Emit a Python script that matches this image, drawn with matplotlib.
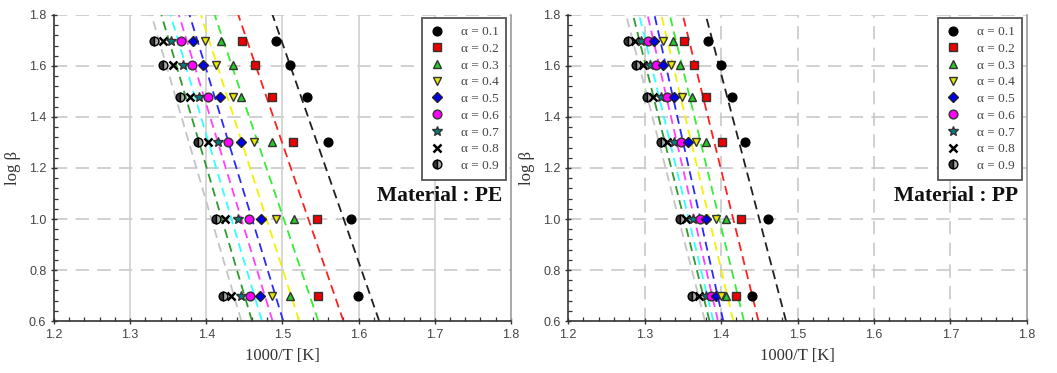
import matplotlib
matplotlib.use("Agg")
import matplotlib.pyplot as plt
from matplotlib.ticker import MultipleLocator

# ---------------- data ----------------
alphas = ["0.1", "0.2", "0.3", "0.4", "0.5", "0.6", "0.7", "0.8", "0.9"]
log_beta = [1.699, 1.602, 1.477, 1.301, 1.0, 0.699]

# PE: x (1000/T) for each alpha, per log_beta row (rows ordered as log_beta)
pe_x = {
    "0.1": [1.491, 1.510, 1.532, 1.560, 1.590, 1.599],
    "0.2": [1.447, 1.464, 1.486, 1.514, 1.545, 1.546],
    "0.3": [1.419, 1.435, 1.445, 1.486, 1.515, 1.510],
    "0.4": [1.398, 1.413, 1.435, 1.462, 1.491, 1.486],
    "0.5": [1.382, 1.396, 1.418, 1.445, 1.472, 1.471],
    "0.6": [1.367, 1.381, 1.402, 1.429, 1.456, 1.457],
    "0.7": [1.353, 1.369, 1.390, 1.415, 1.441, 1.446],
    "0.8": [1.343, 1.356, 1.378, 1.402, 1.425, 1.433],
    "0.9": [1.331, 1.343, 1.365, 1.389, 1.413, 1.422],
}
# PE fit lines: x at log_beta = 0.6 and at 1.8
pe_fit_bottom = [1.627, 1.580, 1.547, 1.522, 1.501, 1.487, 1.473, 1.460, 1.446]
pe_fit_top = [1.487, 1.442, 1.411, 1.393, 1.378, 1.364, 1.353, 1.341, 1.328]

# PP
pp_x = {
    "0.1": [1.383, 1.400, 1.414, 1.432, 1.461, 1.441],
    "0.2": [1.352, 1.365, 1.381, 1.401, 1.426, 1.419],
    "0.3": [1.337, 1.347, 1.362, 1.381, 1.407, 1.407],
    "0.4": [1.324, 1.334, 1.349, 1.367, 1.393, 1.400],
    "0.5": [1.313, 1.324, 1.339, 1.357, 1.381, 1.393],
    "0.6": [1.304, 1.315, 1.330, 1.348, 1.372, 1.387],
    "0.7": [1.295, 1.307, 1.321, 1.339, 1.363, 1.380],
    "0.8": [1.287, 1.298, 1.311, 1.330, 1.354, 1.371],
    "0.9": [1.278, 1.289, 1.303, 1.322, 1.347, 1.362],
}
pp_fit_bottom = [1.485, 1.449, 1.430, 1.416, 1.403, 1.396, 1.390, 1.385, 1.379]
pp_fit_top = [1.380, 1.350, 1.333, 1.322, 1.313, 1.304, 1.293, 1.285, 1.276]

materials = ["PE", "PP"]

# ---------------- styles ----------------
line_colors = ["#202020", "#ff2020", "#33ee33", "#f2f200", "#2a2aff",
               "#ff40ff", "#30ffff", "#2e9a2e", "#c4c4c4"]
marker_styles = [
    dict(marker="o", mfc="black", mec="black", ms=6.3),
    dict(marker="s", mfc="#ee0000", mec="#333333", ms=5.8),
    dict(marker="^", mfc="#22cc22", mec="#333333", ms=6.3),
    dict(marker="v", mfc="#e8e800", mec="#333333", ms=6.3),
    dict(marker="D", mfc="#0000ee", mec="#222222", ms=5.2),
    dict(marker="o", mfc="#ff00ff", mec="#333333", ms=6.3),
    dict(marker="*", mfc="#008080", mec="#333333", ms=7),
    dict(marker="x", mfc="black", mec="black", ms=5.3, mew=1.8),
    dict(marker="o", mfc="#333333", mec="black", ms=6.3, fillstyle="left",
         markerfacecoloralt="#aaaaaa"),
]

serif = ["Liberation Serif", "DejaVu Serif"]
sans = ["Liberation Sans", "DejaVu Sans"]

fig = plt.figure(figsize=(10.57, 3.73), dpi=100)
axes = [fig.add_axes([0.0511, 0.1394, 0.4323, 0.8204]),
        fig.add_axes([0.5374, 0.1394, 0.4342, 0.8204])]

datasets = [(pe_x, pe_fit_bottom, pe_fit_top), (pp_x, pp_fit_bottom, pp_fit_top)]

for k, ax in enumerate(axes):
    xd, fb, ft = datasets[k]
    ax.set_xlim(1.2, 1.8)
    ax.set_ylim(0.6, 1.8)
    # grid
    for yv in [0.8, 1.0, 1.2, 1.4, 1.6, 1.8]:
        ax.axhline(yv, color="#c8c8c8", lw=1.2, dashes=(8, 5), zorder=0)
    for xv in [1.3, 1.4, 1.5, 1.6, 1.7]:
        if k == 0:
            ax.axvline(xv, color="#d0d0d0", lw=1.2, zorder=0)
        else:
            ax.axvline(xv, color="#c8c8c8", lw=1.2, dashes=(8, 5), zorder=0)

    for i, a in enumerate(alphas):
        ax.plot([fb[i], ft[i]], [0.6, 1.8], color=line_colors[i], lw=1.3,
                dashes=(5, 3), zorder=2)
    for i, a in list(enumerate(alphas))[::-1]:
        st = dict(marker_styles[i])
        ax.plot(xd[a], log_beta, ls="none", zorder=3, **st,
                label="\u03b1 = " + a)
    # legend in alpha order
    hs, ls = ax.get_legend_handles_labels()
    hs, ls = hs[::-1], ls[::-1]
    leg = ax.legend(hs, ls, loc="upper right", bbox_to_anchor=(0.99, 0.99),
                    prop={"family": serif, "size": 9.5}, fancybox=False,
                    edgecolor="#555555", framealpha=1, handlelength=1.0,
                    handletextpad=1.3, labelspacing=0.34, borderpad=0.6,
                    borderaxespad=0.0, numpoints=1)
    leg.get_frame().set_linewidth(1.3)
    for t in leg.get_texts():
        t.set_color("#444444")

    ax.text(1.788, 1.09, "Material : " + materials[k], ha="right", va="center",
            fontsize=15.5, fontweight="bold", family=serif, color="#111111")

    ax.xaxis.set_major_locator(MultipleLocator(0.1))
    ax.xaxis.set_minor_locator(MultipleLocator(0.02))
    ax.yaxis.set_major_locator(MultipleLocator(0.2))
    ax.yaxis.set_minor_locator(MultipleLocator(0.04))
    ax.xaxis.set_major_formatter(plt.FuncFormatter(lambda v, p: f"{v:.1f}"))
    ax.yaxis.set_major_formatter(plt.FuncFormatter(lambda v, p: f"{v:.1f}"))
    ax.tick_params(which="major", direction="inout", length=5, width=1,
                   colors="#333333", labelsize=9, labelcolor="#444444", pad=3)
    ax.tick_params(which="minor", direction="in", length=3, width=0.9,
                   colors="#333333")
    ax.tick_params(top=False, right=False, which="both")
    for lab in ax.get_xticklabels() + ax.get_yticklabels():
        lab.set_family(sans)
    ax.spines["top"].set_visible(False)
    ax.spines["right"].set_color("#999999")
    ax.spines["right"].set_linewidth(1.2)
    ax.spines["left"].set_color("#333333")
    ax.spines["bottom"].set_color("#333333")
    ax.spines["left"].set_linewidth(1.2)
    ax.spines["bottom"].set_linewidth(1.2)
    ax.set_xlabel("1000/T [K]", family=serif, fontsize=12, color="#333333",
                  labelpad=5)
    ax.set_ylabel("log \u03b2", family=serif, fontsize=12, color="#333333",
                  labelpad=6)

fig.savefig("out.png", dpi=100)
